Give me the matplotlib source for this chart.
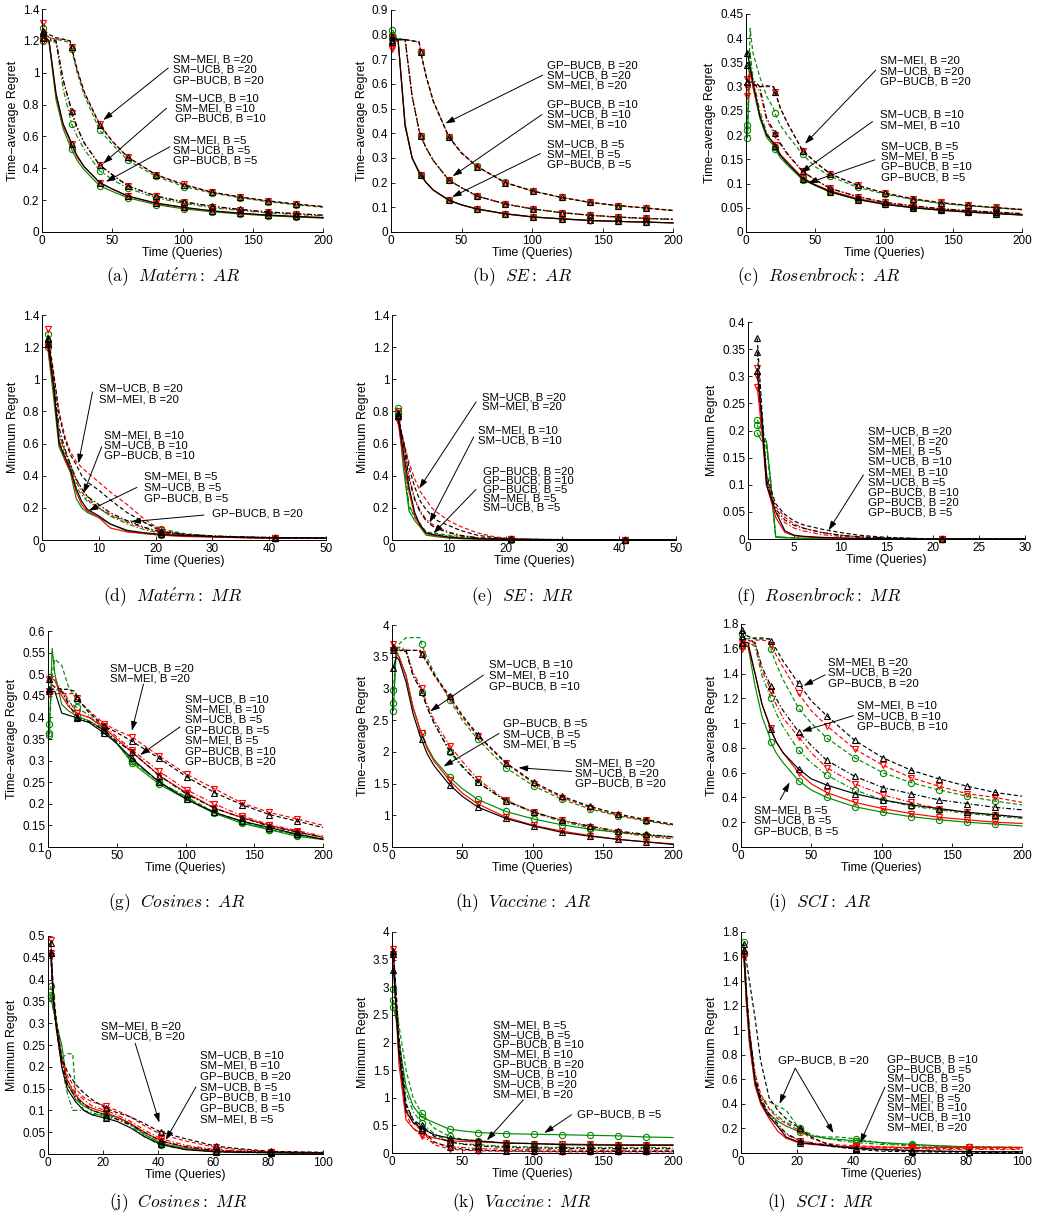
import matplotlib
matplotlib.use('Agg')
import matplotlib.pyplot as plt
from matplotlib.ticker import FuncFormatter
import numpy as np

plt.rcParams['font.family'] = ['Liberation Sans', 'DejaVu Sans']
plt.rcParams['mathtext.fontset'] = 'cm'
plt.rcParams['lines.scale_dashes'] = False

# ---------------- x grids ----------------
X_AR = [1, 3, 5, 10, 15, 20, 21, 25, 30, 41, 50, 61, 81, 101, 121, 141, 161, 181, 200]
X_MR50 = [1, 2, 3, 4, 5, 6, 7, 8, 10, 12, 15, 18, 21, 25, 30, 35, 41, 45, 50]
X_MR30 = [1, 1.5, 2, 2.5, 3, 4, 5, 6, 8, 10, 12, 15, 18, 21, 25, 30]
X_MR100 = [1, 2, 3, 5, 7, 9, 10, 13, 16, 21, 25, 30, 35, 41, 50, 61, 70, 81, 90, 100]
X_MR200 = [1, 3, 5, 10, 15, 21, 30, 41, 50, 61, 81, 101, 121, 141, 161, 181, 200]

# ---------------- (a) Matern AR ----------------
a_mei5 = [1.22, 1.21, 1.2, 0.86, 0.67, 0.57, 0.55, 0.47, 0.41, 0.31, 0.27, 0.225, 0.18, 0.152, 0.132, 0.117, 0.105, 0.097, 0.09]
a_ucb5 = [1.25, 1.22, 1.2, 0.87, 0.68, 0.58, 0.55, 0.48, 0.41, 0.31, 0.27, 0.226, 0.182, 0.155, 0.133, 0.118, 0.106, 0.098, 0.09]
a_gp5 = [1.2, 1.2, 1.19, 0.83, 0.65, 0.54, 0.52, 0.45, 0.39, 0.29, 0.255, 0.215, 0.172, 0.145, 0.127, 0.113, 0.102, 0.094, 0.087]
a_mei10 = [1.2, 1.2, 1.2, 1.2, 0.95, 0.79, 0.75, 0.65, 0.56, 0.42, 0.36, 0.29, 0.225, 0.187, 0.16, 0.14, 0.125, 0.115, 0.105]
a_ucb10 = [1.22, 1.21, 1.21, 1.2, 0.96, 0.8, 0.76, 0.66, 0.56, 0.42, 0.36, 0.29, 0.226, 0.19, 0.162, 0.142, 0.126, 0.115, 0.106]
a_gp10 = [1.22, 1.21, 1.2, 1.19, 0.9, 0.72, 0.68, 0.6, 0.52, 0.385, 0.33, 0.275, 0.215, 0.18, 0.152, 0.135, 0.12, 0.11, 0.1]
a_mei20 = [1.31, 1.26, 1.22, 1.21, 1.21, 1.2, 1.16, 1.02, 0.88, 0.68, 0.57, 0.47, 0.36, 0.3, 0.25, 0.22, 0.195, 0.175, 0.16]
a_ucb20 = [1.26, 1.25, 1.24, 1.22, 1.21, 1.2, 1.16, 1.02, 0.88, 0.67, 0.57, 0.47, 0.36, 0.295, 0.25, 0.22, 0.195, 0.175, 0.16]
a_gp20 = [1.28, 1.24, 1.22, 1.21, 1.2, 1.19, 1.15, 1.0, 0.86, 0.64, 0.55, 0.45, 0.35, 0.285, 0.245, 0.215, 0.19, 0.17, 0.155]

# ---------------- (b) SE AR ----------------
b_mei5 = [0.79, 0.785, 0.78, 0.43, 0.3, 0.24, 0.23, 0.2, 0.17, 0.128, 0.11, 0.093, 0.073, 0.06, 0.053, 0.046, 0.043, 0.04, 0.037]
b_ucb5 = [0.78, 0.78, 0.78, 0.43, 0.3, 0.24, 0.232, 0.2, 0.17, 0.129, 0.11, 0.093, 0.074, 0.061, 0.053, 0.047, 0.043, 0.04, 0.037]
b_gp5 = [0.8, 0.79, 0.78, 0.44, 0.3, 0.245, 0.233, 0.2, 0.17, 0.13, 0.11, 0.094, 0.074, 0.061, 0.054, 0.047, 0.043, 0.04, 0.037]
b_mei10 = [0.75, 0.77, 0.78, 0.78, 0.55, 0.41, 0.39, 0.34, 0.29, 0.21, 0.18, 0.145, 0.113, 0.093, 0.078, 0.068, 0.06, 0.055, 0.051]
b_ucb10 = [0.79, 0.785, 0.78, 0.78, 0.55, 0.41, 0.39, 0.34, 0.29, 0.21, 0.18, 0.146, 0.114, 0.093, 0.079, 0.068, 0.061, 0.055, 0.052]
b_gp10 = [0.82, 0.8, 0.785, 0.78, 0.55, 0.41, 0.39, 0.34, 0.29, 0.21, 0.18, 0.146, 0.113, 0.093, 0.078, 0.068, 0.06, 0.055, 0.051]
b_mei20 = [0.74, 0.77, 0.78, 0.78, 0.775, 0.77, 0.73, 0.63, 0.53, 0.385, 0.32, 0.265, 0.2, 0.165, 0.14, 0.12, 0.107, 0.097, 0.087]
b_ucb20 = [0.77, 0.78, 0.78, 0.78, 0.775, 0.77, 0.73, 0.63, 0.53, 0.385, 0.32, 0.265, 0.2, 0.165, 0.14, 0.12, 0.107, 0.097, 0.087]
b_gp20 = [0.79, 0.785, 0.78, 0.78, 0.775, 0.77, 0.73, 0.63, 0.53, 0.387, 0.322, 0.267, 0.201, 0.166, 0.14, 0.12, 0.107, 0.097, 0.088]

# ---------------- (c) Rosenbrock AR ----------------
c_mei5 = [0.315, 0.33, 0.3, 0.24, 0.2, 0.185, 0.18, 0.16, 0.145, 0.112, 0.098, 0.085, 0.069, 0.058, 0.051, 0.046, 0.042, 0.039, 0.036]
c_ucb5 = [0.37, 0.34, 0.31, 0.24, 0.2, 0.183, 0.178, 0.158, 0.142, 0.11, 0.097, 0.083, 0.067, 0.057, 0.05, 0.045, 0.041, 0.038, 0.035]
c_gp5 = [0.195, 0.35, 0.3, 0.235, 0.195, 0.178, 0.172, 0.153, 0.138, 0.108, 0.096, 0.082, 0.067, 0.057, 0.05, 0.045, 0.041, 0.038, 0.035]
c_mei10 = [0.3, 0.31, 0.31, 0.29, 0.23, 0.205, 0.2, 0.18, 0.16, 0.125, 0.108, 0.09, 0.073, 0.061, 0.054, 0.048, 0.044, 0.041, 0.038]
c_ucb10 = [0.345, 0.33, 0.315, 0.3, 0.235, 0.21, 0.205, 0.183, 0.162, 0.125, 0.108, 0.09, 0.073, 0.061, 0.054, 0.048, 0.044, 0.041, 0.038]
c_gp10 = [0.21, 0.37, 0.32, 0.25, 0.205, 0.182, 0.176, 0.157, 0.141, 0.112, 0.098, 0.084, 0.069, 0.058, 0.051, 0.046, 0.042, 0.039, 0.036]
c_mei20 = [0.28, 0.3, 0.305, 0.3, 0.3, 0.3, 0.29, 0.255, 0.225, 0.168, 0.145, 0.12, 0.096, 0.08, 0.069, 0.061, 0.055, 0.051, 0.047]
c_ucb20 = [0.31, 0.31, 0.305, 0.3, 0.302, 0.3, 0.29, 0.255, 0.225, 0.168, 0.145, 0.12, 0.096, 0.08, 0.068, 0.06, 0.055, 0.05, 0.046]
c_gp20 = [0.22, 0.42, 0.37, 0.32, 0.28, 0.255, 0.245, 0.22, 0.2, 0.16, 0.135, 0.115, 0.092, 0.078, 0.067, 0.059, 0.054, 0.05, 0.046]

# ---------------- (d) Matern MR ----------------
d_mei5 = [1.22, 0.95, 0.62, 0.5, 0.43, 0.3, 0.22, 0.18, 0.14, 0.075, 0.05, 0.04, 0.03, 0.022, 0.018, 0.014, 0.01, 0.01, 0.01]
d_ucb5 = [1.25, 0.97, 0.6, 0.52, 0.44, 0.32, 0.24, 0.19, 0.15, 0.1, 0.06, 0.045, 0.035, 0.027, 0.022, 0.018, 0.015, 0.014, 0.013]
d_gp5 = [1.2, 0.9, 0.58, 0.5, 0.42, 0.26, 0.2, 0.17, 0.14, 0.1, 0.055, 0.04, 0.03, 0.025, 0.02, 0.016, 0.013, 0.012, 0.012]
d_mei10 = [1.2, 0.96, 0.65, 0.55, 0.46, 0.36, 0.3, 0.25, 0.2, 0.16, 0.11, 0.075, 0.045, 0.03, 0.022, 0.017, 0.013, 0.012, 0.011]
d_ucb10 = [1.22, 1.0, 0.7, 0.57, 0.47, 0.38, 0.32, 0.27, 0.22, 0.17, 0.12, 0.08, 0.05, 0.035, 0.026, 0.02, 0.015, 0.014, 0.013]
d_gp10 = [1.22, 0.95, 0.62, 0.53, 0.45, 0.33, 0.28, 0.24, 0.2, 0.15, 0.1, 0.065, 0.04, 0.03, 0.022, 0.017, 0.013, 0.012, 0.011]
d_mei20 = [1.31, 1.05, 0.8, 0.65, 0.55, 0.49, 0.45, 0.42, 0.36, 0.3, 0.22, 0.13, 0.06, 0.035, 0.02, 0.015, 0.01, 0.01, 0.01]
d_ucb20 = [1.26, 1.05, 0.78, 0.63, 0.53, 0.47, 0.4, 0.36, 0.31, 0.25, 0.17, 0.11, 0.055, 0.035, 0.022, 0.016, 0.012, 0.011, 0.01]
d_gp20 = [1.28, 1.0, 0.66, 0.56, 0.47, 0.38, 0.32, 0.27, 0.2, 0.15, 0.12, 0.11, 0.07, 0.04, 0.025, 0.018, 0.013, 0.012, 0.011]

# ---------------- (e) SE MR ----------------
e_mei5 = [0.75, 0.5, 0.3, 0.15, 0.08, 0.04, 0.03, 0.025, 0.015, 0.01, 0.007, 0.005, 0.004, 0.003, 0.002, 0.002, 0.002, 0.002, 0.002]
e_ucb5 = [0.78, 0.55, 0.33, 0.17, 0.09, 0.045, 0.035, 0.03, 0.018, 0.012, 0.008, 0.006, 0.004, 0.003, 0.002, 0.002, 0.002, 0.002, 0.002]
e_gp5 = [0.82, 0.45, 0.18, 0.12, 0.08, 0.03, 0.025, 0.02, 0.012, 0.008, 0.005, 0.004, 0.003, 0.002, 0.002, 0.002, 0.002, 0.002, 0.002]
e_mei10 = [0.8, 0.6, 0.4, 0.26, 0.18, 0.13, 0.1, 0.08, 0.05, 0.03, 0.015, 0.008, 0.005, 0.003, 0.002, 0.002, 0.002, 0.002, 0.002]
e_ucb10 = [0.79, 0.6, 0.38, 0.25, 0.17, 0.12, 0.09, 0.07, 0.045, 0.028, 0.013, 0.007, 0.004, 0.003, 0.002, 0.002, 0.002, 0.002, 0.002]
e_gp10 = [0.8, 0.5, 0.22, 0.14, 0.09, 0.05, 0.04, 0.035, 0.025, 0.018, 0.01, 0.006, 0.004, 0.003, 0.002, 0.002, 0.002, 0.002, 0.002]
e_mei20 = [0.74, 0.62, 0.48, 0.38, 0.3, 0.25, 0.2, 0.17, 0.12, 0.085, 0.045, 0.02, 0.008, 0.004, 0.003, 0.002, 0.002, 0.002, 0.002]
e_ucb20 = [0.77, 0.62, 0.45, 0.33, 0.24, 0.19, 0.15, 0.12, 0.09, 0.06, 0.03, 0.015, 0.006, 0.004, 0.003, 0.002, 0.002, 0.002, 0.002]
e_gp20 = [0.79, 0.5, 0.2, 0.15, 0.1, 0.05, 0.045, 0.04, 0.03, 0.022, 0.015, 0.01, 0.005, 0.003, 0.002, 0.002, 0.002, 0.002, 0.002]

# ---------------- (f) Rosenbrock MR ----------------
f_mei5 = [0.28, 0.2, 0.1, 0.07, 0.04, 0.012, 0.006, 0.004, 0.002, 0.001, 0.001, 0.0, 0.0, 0.0, 0.0, 0.0]
f_ucb5 = [0.31, 0.22, 0.1, 0.075, 0.05, 0.015, 0.007, 0.005, 0.003, 0.002, 0.001, 0.001, 0.0, 0.0, 0.0, 0.0]
f_gp5 = [0.195, 0.18, 0.18, 0.1, 0.003, 0.002, 0.002, 0.001, 0.001, 0.0, 0.0, 0.0, 0.0, 0.0, 0.0, 0.0]
f_mei10 = [0.3, 0.21, 0.11, 0.075, 0.05, 0.03, 0.02, 0.015, 0.008, 0.005, 0.003, 0.001, 0.0, 0.0, 0.0, 0.0]
f_ucb10 = [0.345, 0.23, 0.11, 0.08, 0.055, 0.035, 0.025, 0.02, 0.012, 0.007, 0.004, 0.002, 0.001, 0.0, 0.0, 0.0]
f_gp10 = [0.21, 0.19, 0.17, 0.09, 0.005, 0.003, 0.002, 0.001, 0.001, 0.0, 0.0, 0.0, 0.0, 0.0, 0.0, 0.0]
f_mei20 = [0.315, 0.22, 0.12, 0.08, 0.06, 0.04, 0.028, 0.02, 0.012, 0.007, 0.004, 0.002, 0.001, 0.0, 0.0, 0.0]
f_ucb20 = [0.37, 0.24, 0.12, 0.09, 0.065, 0.045, 0.033, 0.026, 0.018, 0.012, 0.007, 0.003, 0.001, 0.0, 0.0, 0.0]
f_gp20 = [0.22, 0.2, 0.18, 0.1, 0.004, 0.003, 0.002, 0.001, 0.001, 0.0, 0.0, 0.0, 0.0, 0.0, 0.0, 0.0]

# ---------------- (g) Cosines AR ----------------
g_mei5 = [0.49, 0.49, 0.485, 0.45, 0.425, 0.412, 0.41, 0.405, 0.4, 0.375, 0.35, 0.32, 0.265, 0.225, 0.19, 0.168, 0.15, 0.135, 0.122]
g_ucb5 = [0.46, 0.46, 0.46, 0.41, 0.405, 0.4, 0.398, 0.393, 0.388, 0.363, 0.34, 0.305, 0.25, 0.21, 0.18, 0.16, 0.145, 0.13, 0.118]
g_gp5 = [0.36, 0.56, 0.5, 0.43, 0.415, 0.405, 0.403, 0.398, 0.392, 0.37, 0.34, 0.295, 0.245, 0.21, 0.178, 0.155, 0.14, 0.125, 0.117]
g_mei10 = [0.46, 0.47, 0.47, 0.465, 0.44, 0.415, 0.41, 0.405, 0.4, 0.38, 0.355, 0.325, 0.275, 0.232, 0.2, 0.172, 0.152, 0.138, 0.125]
g_ucb10 = [0.465, 0.465, 0.465, 0.46, 0.43, 0.405, 0.4, 0.395, 0.39, 0.37, 0.345, 0.32, 0.265, 0.222, 0.19, 0.168, 0.148, 0.135, 0.123]
g_gp10 = [0.365, 0.5, 0.49, 0.46, 0.435, 0.425, 0.423, 0.415, 0.405, 0.365, 0.34, 0.3, 0.25, 0.215, 0.18, 0.158, 0.142, 0.128, 0.118]
g_mei20 = [0.455, 0.455, 0.455, 0.455, 0.455, 0.455, 0.445, 0.43, 0.415, 0.385, 0.37, 0.355, 0.31, 0.268, 0.235, 0.202, 0.18, 0.165, 0.15]
g_ucb20 = [0.49, 0.475, 0.47, 0.465, 0.465, 0.46, 0.445, 0.43, 0.41, 0.38, 0.365, 0.345, 0.305, 0.262, 0.226, 0.198, 0.175, 0.16, 0.145]
g_gp20 = [0.385, 0.5, 0.535, 0.52, 0.47, 0.445, 0.44, 0.43, 0.415, 0.37, 0.34, 0.3, 0.25, 0.215, 0.18, 0.16, 0.14, 0.13, 0.118]

# ---------------- (h) Vaccine AR ----------------
h_mei5 = [3.6, 3.55, 3.5, 3.2, 2.7, 2.35, 2.3, 2.05, 1.85, 1.55, 1.35, 1.18, 0.97, 0.84, 0.75, 0.68, 0.62, 0.58, 0.55]
h_ucb5 = [3.32, 3.5, 3.45, 3.1, 2.6, 2.25, 2.2, 1.97, 1.78, 1.48, 1.3, 1.13, 0.95, 0.83, 0.73, 0.67, 0.62, 0.58, 0.54]
h_gp5 = [2.65, 3.6, 3.5, 3.2, 2.7, 2.35, 2.3, 2.08, 1.88, 1.6, 1.42, 1.25, 1.06, 0.94, 0.85, 0.78, 0.73, 0.69, 0.66]
h_mei10 = [3.7, 3.65, 3.62, 3.6, 3.25, 3.05, 3.0, 2.75, 2.5, 2.1, 1.85, 1.57, 1.24, 1.05, 0.92, 0.82, 0.74, 0.68, 0.63]
h_ucb10 = [3.6, 3.6, 3.6, 3.58, 3.2, 3.0, 2.95, 2.7, 2.45, 2.02, 1.78, 1.52, 1.23, 1.05, 0.92, 0.83, 0.75, 0.7, 0.66]
h_gp10 = [2.77, 3.6, 3.65, 3.62, 3.2, 3.0, 2.95, 2.7, 2.45, 2.0, 1.76, 1.52, 1.22, 1.04, 0.9, 0.8, 0.73, 0.67, 0.63]
h_mei20 = [3.6, 3.6, 3.6, 3.6, 3.6, 3.6, 3.55, 3.4, 3.2, 2.85, 2.55, 2.25, 1.82, 1.5, 1.28, 1.12, 1.0, 0.92, 0.85]
h_ucb20 = [3.65, 3.62, 3.6, 3.6, 3.6, 3.6, 3.55, 3.42, 3.22, 2.88, 2.58, 2.27, 1.83, 1.52, 1.3, 1.14, 1.02, 0.93, 0.86]
h_gp20 = [2.97, 3.6, 3.7, 3.8, 3.8, 3.8, 3.7, 3.48, 3.25, 2.82, 2.5, 2.2, 1.75, 1.46, 1.25, 1.1, 0.99, 0.91, 0.84]

# ---------------- (i) SCI AR ----------------
i_mei5 = [1.6, 1.62, 1.62, 1.4, 1.15, 1.0, 0.96, 0.85, 0.76, 0.6, 0.51, 0.44, 0.36, 0.31, 0.27, 0.24, 0.22, 0.2, 0.19]
i_ucb5 = [1.65, 1.65, 1.65, 1.4, 1.15, 0.99, 0.95, 0.85, 0.76, 0.63, 0.55, 0.5, 0.43, 0.38, 0.34, 0.31, 0.28, 0.26, 0.24]
i_gp5 = [1.62, 1.63, 1.62, 1.3, 1.05, 0.9, 0.85, 0.76, 0.68, 0.535, 0.46, 0.4, 0.325, 0.28, 0.245, 0.22, 0.2, 0.185, 0.17]
i_mei10 = [1.62, 1.63, 1.64, 1.64, 1.42, 1.3, 1.26, 1.15, 1.04, 0.89, 0.76, 0.64, 0.51, 0.42, 0.36, 0.31, 0.28, 0.26, 0.24]
i_ucb10 = [1.7, 1.68, 1.67, 1.65, 1.45, 1.33, 1.3, 1.2, 1.1, 0.93, 0.82, 0.7, 0.57, 0.48, 0.43, 0.38, 0.35, 0.32, 0.3]
i_gp10 = [1.62, 1.64, 1.65, 1.62, 1.38, 1.24, 1.2, 1.08, 0.97, 0.78, 0.68, 0.58, 0.46, 0.38, 0.33, 0.3, 0.27, 0.25, 0.23]
i_mei20 = [1.65, 1.66, 1.66, 1.67, 1.67, 1.66, 1.63, 1.55, 1.45, 1.24, 1.1, 0.98, 0.79, 0.66, 0.56, 0.49, 0.43, 0.4, 0.36]
i_ucb20 = [1.75, 1.72, 1.7, 1.68, 1.68, 1.68, 1.66, 1.6, 1.5, 1.32, 1.18, 1.06, 0.86, 0.72, 0.62, 0.55, 0.49, 0.44, 0.41]
i_gp20 = [1.72, 1.68, 1.68, 1.69, 1.69, 1.68, 1.6, 1.48, 1.35, 1.12, 1.0, 0.88, 0.72, 0.6, 0.52, 0.46, 0.41, 0.37, 0.34]

# ---------------- (j) Cosines MR ----------------
j_mei5 = [0.49, 0.36, 0.3, 0.22, 0.17, 0.145, 0.135, 0.115, 0.105, 0.095, 0.085, 0.07, 0.05, 0.03, 0.015, 0.007, 0.005, 0.004, 0.003, 0.003]
j_ucb5 = [0.46, 0.35, 0.29, 0.2, 0.15, 0.13, 0.12, 0.1, 0.09, 0.082, 0.075, 0.06, 0.04, 0.022, 0.01, 0.005, 0.004, 0.003, 0.002, 0.002]
j_gp5 = [0.36, 0.33, 0.3, 0.25, 0.16, 0.14, 0.125, 0.11, 0.1, 0.09, 0.085, 0.07, 0.045, 0.025, 0.012, 0.006, 0.004, 0.003, 0.003, 0.002]
j_mei10 = [0.46, 0.35, 0.29, 0.21, 0.17, 0.15, 0.14, 0.125, 0.11, 0.1, 0.09, 0.075, 0.055, 0.035, 0.02, 0.01, 0.007, 0.005, 0.004, 0.003]
j_ucb10 = [0.46, 0.35, 0.29, 0.21, 0.16, 0.14, 0.13, 0.115, 0.1, 0.09, 0.08, 0.068, 0.05, 0.03, 0.017, 0.008, 0.006, 0.004, 0.003, 0.003]
j_gp10 = [0.365, 0.33, 0.29, 0.2, 0.14, 0.1, 0.1, 0.1, 0.095, 0.085, 0.08, 0.065, 0.04, 0.02, 0.01, 0.005, 0.003, 0.003, 0.002, 0.002]
j_mei20 = [0.455, 0.35, 0.3, 0.22, 0.18, 0.16, 0.15, 0.13, 0.12, 0.11, 0.1, 0.085, 0.065, 0.045, 0.03, 0.015, 0.01, 0.005, 0.004, 0.003]
j_ucb20 = [0.485, 0.37, 0.31, 0.22, 0.19, 0.17, 0.16, 0.14, 0.125, 0.105, 0.095, 0.085, 0.07, 0.05, 0.035, 0.018, 0.012, 0.006, 0.005, 0.004]
j_gp20 = [0.385, 0.34, 0.3, 0.22, 0.23, 0.23, 0.14, 0.1, 0.09, 0.09, 0.085, 0.068, 0.045, 0.025, 0.012, 0.006, 0.004, 0.003, 0.003, 0.002]

# ---------------- (k) Vaccine MR ----------------
k_mei5 = [3.6, 2.5, 1.6, 0.6, 0.45, 0.35, 0.27, 0.22, 0.21, 0.2, 0.18, 0.17, 0.16, 0.155, 0.15, 0.15, 0.15]
k_ucb5 = [3.32, 2.6, 1.8, 0.75, 0.55, 0.45, 0.33, 0.27, 0.24, 0.22, 0.18, 0.17, 0.15, 0.145, 0.14, 0.14, 0.14]
k_gp5 = [2.65, 2.4, 2.0, 1.2, 0.85, 0.65, 0.55, 0.43, 0.4, 0.37, 0.35, 0.34, 0.33, 0.32, 0.31, 0.29, 0.28]
k_mei10 = [3.7, 2.6, 1.7, 0.7, 0.45, 0.3, 0.18, 0.12, 0.1, 0.08, 0.07, 0.06, 0.055, 0.05, 0.05, 0.05, 0.05]
k_ucb10 = [3.6, 2.7, 1.9, 0.85, 0.6, 0.5, 0.3, 0.2, 0.16, 0.13, 0.1, 0.09, 0.085, 0.08, 0.08, 0.08, 0.08]
k_gp10 = [2.77, 2.5, 2.0, 1.1, 0.75, 0.55, 0.35, 0.2, 0.17, 0.15, 0.12, 0.11, 0.1, 0.1, 0.1, 0.1, 0.1]
k_mei20 = [3.55, 2.7, 1.9, 0.8, 0.55, 0.4, 0.15, 0.07, 0.05, 0.04, 0.03, 0.025, 0.02, 0.02, 0.02, 0.02, 0.02]
k_ucb20 = [3.65, 2.9, 2.1, 0.9, 0.6, 0.42, 0.2, 0.1, 0.07, 0.05, 0.04, 0.035, 0.03, 0.03, 0.03, 0.03, 0.03]
k_gp20 = [2.97, 2.7, 2.3, 1.5, 1.0, 0.72, 0.45, 0.3, 0.25, 0.22, 0.18, 0.17, 0.16, 0.15, 0.15, 0.14, 0.14]

# ---------------- (l) SCI MR ----------------
l_mei5 = [1.6, 1.2, 0.9, 0.55, 0.4, 0.32, 0.28, 0.18, 0.12, 0.08, 0.07, 0.06, 0.055, 0.05, 0.048, 0.045, 0.045, 0.045, 0.045, 0.045]
l_ucb5 = [1.65, 1.25, 0.95, 0.58, 0.42, 0.33, 0.3, 0.22, 0.13, 0.085, 0.075, 0.065, 0.05, 0.04, 0.03, 0.02, 0.015, 0.012, 0.01, 0.01]
l_gp5 = [1.62, 1.2, 0.9, 0.55, 0.42, 0.35, 0.32, 0.26, 0.22, 0.17, 0.14, 0.12, 0.11, 0.1, 0.085, 0.07, 0.06, 0.05, 0.047, 0.045]
l_mei10 = [1.62, 1.25, 0.95, 0.6, 0.43, 0.35, 0.3, 0.22, 0.15, 0.1, 0.085, 0.07, 0.055, 0.045, 0.04, 0.035, 0.03, 0.03, 0.028, 0.028]
l_ucb10 = [1.7, 1.3, 1.0, 0.62, 0.45, 0.36, 0.32, 0.24, 0.16, 0.1, 0.08, 0.06, 0.045, 0.035, 0.025, 0.02, 0.015, 0.012, 0.01, 0.01]
l_gp10 = [1.62, 1.2, 0.92, 0.57, 0.45, 0.4, 0.37, 0.3, 0.25, 0.2, 0.15, 0.12, 0.1, 0.085, 0.07, 0.06, 0.055, 0.05, 0.048, 0.045]
l_mei20 = [1.6, 1.3, 1.0, 0.65, 0.48, 0.4, 0.36, 0.28, 0.24, 0.18, 0.12, 0.08, 0.065, 0.06, 0.05, 0.04, 0.037, 0.035, 0.035, 0.035]
l_ucb20 = [1.65, 1.55, 1.4, 1.1, 0.75, 0.55, 0.45, 0.35, 0.28, 0.2, 0.13, 0.08, 0.05, 0.03, 0.015, 0.01, 0.008, 0.006, 0.005, 0.005]
l_gp20 = [1.72, 1.3, 1.0, 0.6, 0.45, 0.42, 0.42, 0.38, 0.35, 0.19, 0.14, 0.13, 0.13, 0.115, 0.08, 0.065, 0.055, 0.05, 0.047, 0.045]

# ---------------- captions ----------------
CAPTIONS = [r'$\mathrm{(a)}\ \ \mathit{Mat\acute{e}rn{:}\ AR}$', r'$\mathrm{(b)}\ \ \mathit{SE{:}\ AR}$',
            r'$\mathrm{(c)}\ \ \mathit{Rosenbrock{:}\ AR}$', r'$\mathrm{(d)}\ \ \mathit{Mat\acute{e}rn{:}\ MR}$',
            r'$\mathrm{(e)}\ \ \mathit{SE{:}\ MR}$', r'$\mathrm{(f)}\ \ \mathit{Rosenbrock{:}\ MR}$',
            r'$\mathrm{(g)}\ \ \mathit{Cosines{:}\ AR}$', r'$\mathrm{(h)}\ \ \mathit{Vaccine{:}\ AR}$',
            r'$\mathrm{(i)}\ \ \mathit{SCI{:}\ AR}$', r'$\mathrm{(j)}\ \ \mathit{Cosines{:}\ MR}$',
            r'$\mathrm{(k)}\ \ \mathit{Vaccine{:}\ MR}$', r'$\mathrm{(l)}\ \ \mathit{SCI{:}\ MR}$']

M = '\u2212'
def L(meth, b):
    return f"{meth.replace('-', M)}, B ={b}"

# ---------------- styles ----------------
METHOD_STYLE = {'mei': ('#ff0000', 'v'), 'ucb': ('#000000', '^'), 'gp': ('#008a00', 'o')}
B_STYLE = {5: '-', 10: (0, (3.5, 1.6, 1.0, 1.6)), 20: (0, (3.0, 1.8))}

W, H = 1037, 1220
fig = plt.figure(figsize=(W / 100, H / 100), dpi=100)

MK_AR = [0, 6, 9, 11, 12, 13, 14, 15, 16, 17]
MK_50 = [0, 12, 16]
MK_30 = [0, 13]
MK_100 = [0, 9, 13, 15, 17]
MK_200 = [0, 5, 7, 9, 10, 11, 12, 13, 14, 15]

AR_LBL = 'Time' + M + 'average Regret'
MR_LBL = 'Minimum Regret'

PANELS = [
    dict(rect=(42, 323, 9, 232), x=X_AR, mk=MK_AR, s=[a_gp5, a_gp10, a_gp20, a_mei5, a_mei10, a_mei20, a_ucb5, a_ucb10, a_ucb20],
         xlim=(0, 200), xt=50, ylim=(0, 1.4), yt=0.2, yl=AR_LBL,
         ann=[([L('SM-MEI', 20), L('SM-UCB', 20), L('GP-BUCB', 20)], 93, 1.086, 0.951, [((89.8, 1.029), (43.6, 0.703))]),
              ([L('SM-UCB', 10), L('SM-MEI', 10), L('GP-BUCB', 10)], 94.5, 0.84, 0.714, [((88.6, 0.777), (43.6, 0.43))]),
              ([L('SM-MEI', 5), L('SM-UCB', 5), L('GP-BUCB', 5)], 93.4, 0.577, 0.451, [((91, 0.535), (45.5, 0.315))])],
         cap=(173, 277)),
    dict(rect=(391, 673, 10, 232), x=X_AR, mk=MK_AR, s=[b_gp5, b_gp10, b_gp20, b_mei5, b_mei10, b_mei20, b_ucb5, b_ucb10, b_ucb20],
         xlim=(0, 200), xt=50, ylim=(0, 0.9), yt=0.1, yl=AR_LBL,
         ann=[([L('GP-BUCB', 20), L('SM-UCB', 20), L('SM-MEI', 20)], 110.6, 0.677, 0.595, [((107.6, 0.636), (38.5, 0.44))]),
              ([L('GP-BUCB', 10), L('SM-UCB', 10), L('SM-MEI', 10)], 110.6, 0.518, 0.436, [((107, 0.476), (43.7, 0.226))]),
              ([L('SM-UCB', 5), L('SM-MEI', 5), L('GP-BUCB', 5)], 110.6, 0.356, 0.275, [((105.9, 0.318), (43.3, 0.142))])],
         cap=(522, 277)),
    dict(rect=(746, 1022, 14, 232), x=X_AR, mk=MK_AR, s=[c_gp5, c_gp10, c_gp20, c_mei5, c_mei10, c_mei20, c_ucb5, c_ucb10, c_ucb20],
         xlim=(0, 200), xt=50, ylim=(0, 0.45), yt=0.05, yl=AR_LBL,
         ann=[([L('SM-MEI', 20), L('SM-UCB', 20), L('GP-BUCB', 20)], 97, 0.353, 0.31, [((94, 0.334), (42.7, 0.182))]),
              ([L('SM-UCB', 10), L('SM-MEI', 10)], 97, 0.242, 0.22, [((91.7, 0.228), (39.6, 0.122))]),
              ([L('SM-UCB', 5), L('SM-MEI', 5), L('GP-BUCB', 10), L('GP-BUCB', 5)], 97.5, 0.1766, 0.113, [((93.4, 0.149), (45, 0.101))])],
         cap=(819, 277)),
    dict(rect=(42, 326, 315, 540), x=X_MR50, mk=MK_50, s=[d_gp5, d_gp10, d_gp20, d_mei5, d_mei10, d_mei20, d_ucb5, d_ucb10, d_ucb20],
         xlim=(0, 50), xt=10, ylim=(0, 1.4), yt=0.2, yl=MR_LBL,
         ann=[([L('SM-UCB', 20), L('SM-MEI', 20)], 10.0, 0.942, 0.874, [((8.9, 0.921), (6.4, 0.476))]),
              ([L('SM-MEI', 10), L('SM-UCB', 10), L('GP-BUCB', 10)], 10.9, 0.652, 0.524, [((10.5, 0.58), (7.3, 0.29))]),
              ([L('SM-MEI', 5), L('SM-UCB', 5), L('GP-BUCB', 5)], 18.0, 0.393, 0.259, [((16.7, 0.327), (8.2, 0.182))]),
              ([L('GP-BUCB', 20)], 29.9, 0.166, 0.166, [((28.5, 0.155), (15.7, 0.114))])],
         cap=(173, 597)),
    dict(rect=(392, 676, 315, 540), x=X_MR50, mk=MK_50, s=[e_gp5, e_gp10, e_gp20, e_mei5, e_mei10, e_mei20, e_ucb5, e_ucb10, e_ucb20],
         xlim=(0, 50), xt=10, ylim=(0, 1.4), yt=0.2, yl=MR_LBL,
         ann=[([L('SM-UCB', 20), L('SM-MEI', 20)], 15.9, 0.889, 0.828, [((14.8, 0.859), (4.8, 0.321))]),
              ([L('SM-MEI', 10), L('SM-UCB', 10)], 15.1, 0.683, 0.617, [((14.4, 0.642), (6.6, 0.108))]),
              ([L('GP-BUCB', 20), L('GP-BUCB', 10), L('GP-BUCB', 5), L('SM-MEI', 5), L('SM-UCB', 5)], 16.1, 0.429, 0.203,
               [((14.8, 0.315), (7.3, 0.041))])],
         cap=(522, 597)),
    dict(rect=(748, 1025, 322, 539), x=X_MR30, mk=MK_30, s=[f_gp5, f_gp10, f_gp20, f_mei5, f_mei10, f_mei20, f_ucb5, f_ucb10, f_ucb20],
         xlim=(0, 30), xt=5, ylim=(0, 0.4), yt=0.05, yl=MR_LBL,
         ann=[([L('SM-UCB', 20), L('SM-MEI', 20), L('SM-MEI', 5), L('SM-UCB', 10), L('SM-MEI', 10), L('SM-UCB', 5),
                L('GP-BUCB', 10), L('GP-BUCB', 20), L('GP-BUCB', 5)], 13.05, 0.198, 0.049, [((12.5, 0.118), (8.73, 0.016))])],
         cap=(819, 597)),
    dict(rect=(48, 323, 631, 847), x=X_AR, mk=MK_AR, s=[g_gp5, g_gp10, g_gp20, g_mei5, g_mei10, g_mei20, g_ucb5, g_ucb10, g_ucb20],
         xlim=(0, 200), xt=50, ylim=(0.1, 0.6), yt=0.05, yl=AR_LBL,
         ann=[([L('SM-UCB', 20), L('SM-MEI', 20)], 45.2, 0.513, 0.49, [((69.4, 0.477), (61, 0.369))]),
              ([L('SM-UCB', 10), L('SM-MEI', 10), L('SM-UCB', 5), L('GP-BUCB', 5), L('SM-MEI', 5), L('GP-BUCB', 10),
                L('GP-BUCB', 20)], 99.6, 0.442, 0.298, [((96, 0.378), (67, 0.313))])],
         cap=(177, 903)),
    dict(rect=(392, 673, 625, 847), x=X_AR, mk=MK_AR, s=[h_gp5, h_gp10, h_gp20, h_mei5, h_mei10, h_mei20, h_ucb5, h_ucb10, h_ucb20],
         xlim=(0, 200), xt=50, ylim=(0.5, 4), yt=0.5, yl=AR_LBL,
         ann=[([L('SM-UCB', 10), L('SM-MEI', 10), L('GP-BUCB', 10)], 69.1, 3.37, 3.03, [((65.1, 3.21), (27.2, 2.64))]),
              ([L('GP-BUCB', 5), L('SM-UCB', 5), L('SM-MEI', 5)], 79.3, 2.45, 2.11, [((76.2, 2.29), (36.7, 1.77))]),
              ([L('SM-MEI', 20), L('SM-UCB', 20), L('GP-BUCB', 20)], 130, 1.82, 1.5, [((127.8, 1.69), (90, 1.75))])],
         cap=(523, 903)),
    dict(rect=(741, 1022, 624, 847), x=X_AR, mk=MK_AR, s=[i_gp5, i_gp10, i_gp20, i_mei5, i_mei10, i_mei20, i_ucb5, i_ucb10, i_ucb20],
         xlim=(0, 200), xt=50, ylim=(0, 1.8), yt=0.2, yl=AR_LBL,
         ann=[([L('SM-MEI', 20), L('SM-UCB', 20), L('GP-BUCB', 20)], 62.2, 1.489, 1.323, [((59.9, 1.39), (44.5, 1.301))]),
              ([L('SM-MEI', 10), L('SM-UCB', 10), L('GP-BUCB', 10)], 82.4, 1.14, 0.973, [((80, 1.06), (43.3, 0.933))]),
              ([L('SM-MEI', 5), L('SM-UCB', 5), L('GP-BUCB', 5)], 9, 0.296, 0.126, [((27.9, 0.382), (34.6, 0.522))])],
         cap=(820, 903)),
    dict(rect=(48, 323, 936, 1154), x=X_MR100, mk=MK_100, s=[j_gp5, j_gp10, j_gp20, j_mei5, j_mei10, j_mei20, j_ucb5, j_ucb10, j_ucb20],
         xlim=(0, 100), xt=20, ylim=(0, 0.5), yt=0.05, yl=MR_LBL,
         ann=[([L('SM-MEI', 20), L('SM-UCB', 20)], 19.2, 0.292, 0.269, [((31.7, 0.254), (40.5, 0.072))]),
              ([L('SM-UCB', 10), L('SM-MEI', 10), L('GP-BUCB', 20), L('SM-UCB', 5), L('GP-BUCB', 10), L('GP-BUCB', 5),
                L('SM-MEI', 5)], 55.3, 0.227, 0.0795, [((53.8, 0.154), (42.8, 0.032))])],
         cap=(178, 1203)),
    dict(rect=(392, 673, 932, 1153), x=X_MR200, mk=MK_200, s=[k_gp5, k_gp10, k_gp20, k_mei5, k_mei10, k_mei20, k_ucb5, k_ucb10, k_ucb20],
         xlim=(0, 200), xt=50, ylim=(0, 4), yt=0.5, yl=MR_LBL,
         ann=[([L('SM-MEI', 5), L('SM-UCB', 5), L('GP-BUCB', 10), L('SM-MEI', 10), L('GP-BUCB', 20), L('SM-UCB', 10),
                L('SM-UCB', 20), L('SM-MEI', 20)], 72.2, 2.316, 1.053, [((93.5, 0.963), (67.5, 0.229))]),
              ([L('GP-BUCB', 5)], 131.4, 0.704, 0.704, [((127.8, 0.692), (108.4, 0.361))])],
         cap=(522, 1203)),
    dict(rect=(741, 1022, 932, 1153), x=X_MR100, mk=MK_100, s=[l_gp5, l_gp10, l_gp20, l_mei5, l_mei10, l_mei20, l_ucb5, l_ucb10, l_ucb20],
         xlim=(0, 100), xt=20, ylim=(0, 1.8), yt=0.2, yl=MR_LBL,
         ann=[([L('GP-BUCB', 20)], 13, 0.752, 0.752, [((19.3, 0.69), (13.7, 0.4)), ((19.3, 0.69), (32.9, 0.162))]),
              ([L('GP-BUCB', 10), L('GP-BUCB', 5), L('SM-UCB', 5), L('SM-UCB', 20), L('SM-MEI', 5), L('SM-MEI', 10),
                L('SM-UCB', 10), L('SM-MEI', 20)], 52.1, 0.763, 0.208, [((51.2, 0.536), (42.4, 0.081))])],
         cap=(820, 1203)),
]

ORDER = [('gp', 5), ('gp', 10), ('gp', 20), ('mei', 5), ('mei', 10), ('mei', 20), ('ucb', 5), ('ucb', 10), ('ucb', 20)]
FS = 8.2

fmt = FuncFormatter(lambda v, p: f"{round(v, 4):g}")

for idx, P in enumerate(PANELS):
    l, r, t, b = P['rect']
    ax = fig.add_axes([l / W, 1 - b / H, (r - l) / W, (b - t) / H])
    for (meth, B), ys in zip(ORDER, P['s']):
        col, mk = METHOD_STYLE[meth]
        ax.plot(P['x'], ys, color=col, ls=B_STYLE[B], lw=0.85, marker=mk, markevery=P['mk'],
                ms=4.5, mfc='none', mec=col, mew=0.8, clip_on=False, zorder=2)
    ax.set_xlim(*P['xlim'])
    ax.set_ylim(*P['ylim'])
    ax.set_xticks(np.arange(P['xlim'][0], P['xlim'][1] + 1e-9, P['xt']))
    ax.set_yticks(np.arange(P['ylim'][0], P['ylim'][1] + 1e-9, P['yt']))
    ax.xaxis.set_major_formatter(fmt)
    ax.yaxis.set_major_formatter(fmt)
    ax.spines['top'].set_visible(False)
    ax.spines['right'].set_visible(False)
    for sp in ('left', 'bottom'):
        ax.spines[sp].set_linewidth(0.7)
    ax.tick_params(direction='in', length=3, width=0.6, labelsize=FS + 0.3, pad=2)
    ax.set_xlabel('Time (Queries)', fontsize=FS + 0.5, labelpad=0)
    ax.set_ylabel(P['yl'], fontsize=FS + 0.7, labelpad=3)
    for lines, tx, y0, y1, arrows in P['ann']:
        n = len(lines)
        for k, txt in enumerate(lines):
            yy = y0 if n == 1 else y0 + (y1 - y0) * k / (n - 1)
            ax.text(tx, yy, txt, fontsize=FS, ha='left', va='center', zorder=5)
        for tail, head in arrows:
            ax.annotate('', xy=head, xytext=tail,
                        arrowprops=dict(arrowstyle='-|>,head_length=0.55,head_width=0.18', lw=0.7, color='k',
                                        shrinkA=0, shrinkB=0), zorder=5)
    cx, cy = P['cap']
    fig.text(cx / W, 1 - cy / H, CAPTIONS[idx], fontsize=12.5, ha='center', va='center')

fig.savefig('out.png', dpi=100)
